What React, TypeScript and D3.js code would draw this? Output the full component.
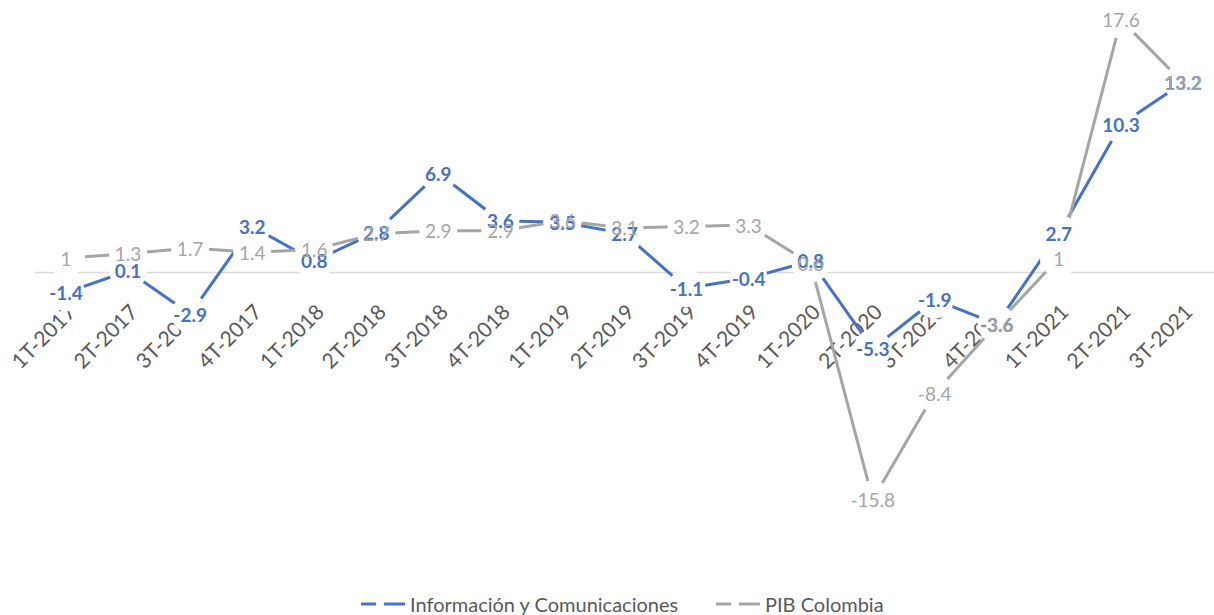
import React from "react";
import * as d3 from "d3";

// quarters on the x axis
const categories = [
  "1T-2017", "2T-2017", "3T-2017", "4T-2017",
  "1T-2018", "2T-2018", "3T-2018", "4T-2018",
  "1T-2019", "2T-2019", "3T-2019", "4T-2019",
  "1T-2020", "2T-2020", "3T-2020", "4T-2020",
  "1T-2021", "2T-2021", "3T-2021",
];

// Información y Comunicaciones (blue)
const infoCom = [-1.4, 0.1, -2.9, 3.2, 0.8, 2.8, 6.9, 3.6, 3.5, 2.7, -1.1, -0.4, 0.8, -5.3, -1.9, -3.6, 2.7, 10.3, 13.2];
// PIB Colombia (gray)
const pib = [1, 1.3, 1.7, 1.4, 1.6, 2.7, 2.9, 2.9, 3.6, 3.1, 3.2, 3.3, 0.6, -15.8, -8.4, -3.6, 1, 17.6, 13.2];

const seriesNames = ["Información y Comunicaciones", "PIB Colombia"];

const width = 1214;
const height = 615;
const blue = "#4472C4";
const gray = "#A5A5A5";
const font = "Lato, 'Open Sans', sans-serif";

export default function App() {
  const x = d3.scalePoint<string>().domain(categories).range([35, 1214]).padding(0.5);
  const y = d3.scaleLinear().domain([-18, 19]).range([531, -0.5]);

  const series = [
    { name: seriesNames[0], values: infoCom, color: blue, bold: true },
    { name: seriesNames[1], values: pib, color: gray, bold: false },
  ];

  const line = d3
    .line<number>()
    .x((_, i) => x(categories[i])!)
    .y((d) => y(d));

  return (
    <svg
      width={width}
      height={height}
      style={{ position: "absolute", left: 0, top: 0, background: "#fff" }}
      fontFamily={font}
    >
      {/* zero line */}
      <line x1={35} x2={1214} y1={y(0)} y2={y(0)} stroke="#D9D9D9" strokeWidth={1.5} />

      {/* category labels */}
      {categories.map((c) => (
        <text
          key={c}
          transform={`translate(${x(c)! + 5},${y(0) + 35}) rotate(-45)`}
          textAnchor="end"
          dominantBaseline="central"
          fontSize={21}
          fill="#595959"
        >
          {c}
        </text>
      ))}

      {/* lines */}
      {series.map((s) => (
        <path key={s.name} d={line(s.values)!} fill="none" stroke={s.color} strokeWidth={3} strokeLinejoin="round" />
      ))}

      {/* white markers cut the lines around each point */}
      {series.map((s) =>
        s.values.map((v, i) => (
          <circle key={s.name + i} cx={x(categories[i])} cy={y(v)} r={19} fill="#fff" />
        ))
      )}

      {/* data labels */}
      {series.map((s) =>
        s.values.map((v, i) => (
          <text
            key={s.name + "l" + i}
            x={x(categories[i])}
            y={y(v)}
            textAnchor="middle"
            dominantBaseline="central"
            fontSize={19}
            fontWeight={s.bold ? 700 : 400}
            fill={s.color}
          >
            {String(v)}
          </text>
        ))
      )}

      {/* legend */}
      {series.map((s, i) => {
        const lx = i === 0 ? 361 : 716;
        const ly = 604;
        return (
          <g key={s.name + "leg"}>
            <line x1={lx} x2={lx + 44} y1={ly} y2={ly} stroke={s.color} strokeWidth={3} />
            <circle cx={lx + 19} cy={ly} r={4} fill="#fff" />
            <text x={lx + 49} y={ly} dominantBaseline="central" fontSize={20} fill="#595959">
              {s.name}
            </text>
          </g>
        );
      })}
    </svg>
  );
}
